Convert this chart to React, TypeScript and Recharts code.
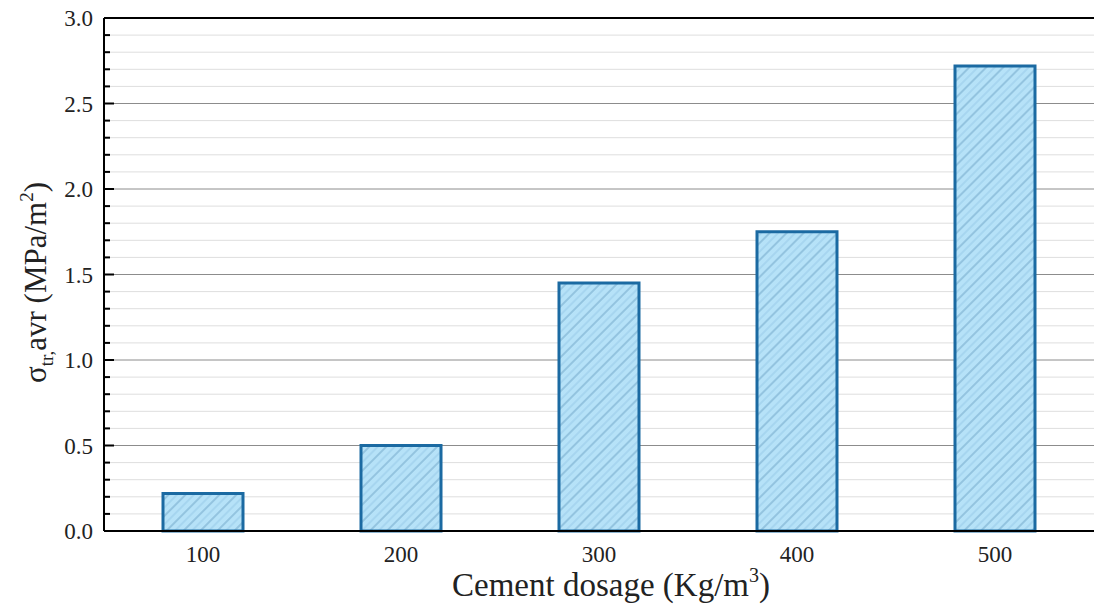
import React from "react";
import {
  BarChart,
  Bar,
  XAxis,
  YAxis,
  CartesianGrid,
  ReferenceLine,
  Label,
} from "recharts";

const categories = ["100", "200", "300", "400", "500"];
const strength = [0.22, 0.5, 1.45, 1.75, 2.72];
const yTicks = [
  0, 0.1, 0.2, 0.3, 0.4, 0.5, 0.6, 0.7, 0.8, 0.9, 1.0, 1.1, 1.2, 1.3, 1.4, 1.5,
  1.6, 1.7, 1.8, 1.9, 2.0, 2.1, 2.2, 2.3, 2.4, 2.5, 2.6, 2.7, 2.8, 2.9, 3.0,
];
const majorTicks = [0, 0.5, 1.0, 1.5, 2.0, 2.5, 3.0];
const minorGrid = yTicks.filter((t) => !majorTicks.includes(t));
const majorGrid = [0.5, 1.0, 1.5, 2.0, 2.5];

const data = categories.map((c, i) => ({ dosage: c, value: strength[i] }));

const FONT = "Liberation Serif, DejaVu Serif, serif";

const LeftTick = (props: any) => {
  const { x, y, payload } = props;
  const major = majorTicks.includes(payload.value);
  return (
    <g>
      <line x1={x} x2={x + (major ? 10 : 6)} y1={y} y2={y} stroke="#000" strokeWidth={2} />
      {major && (
        <text x={x - 11} y={y} dy="0.35em" textAnchor="end" style={{ fontFamily: FONT, fontSize: 23 }} fill="#222">
          {payload.value.toFixed(1)}
        </text>
      )}
    </g>
  );
};

const RightTick = (props: any) => {
  const { x, y, payload } = props;
  const major = majorTicks.includes(payload.value);
  return <line x1={x} x2={x - (major ? 10 : 6)} y1={y} y2={y} stroke="#000" strokeWidth={2} />;
};

const XTick = (props: any) => {
  const { x, y, payload } = props;
  return (
    <text x={x} y={y + 15} dy="0.71em" textAnchor="middle" style={{ fontFamily: FONT, fontSize: 23 }} fill="#222">
      {payload.value}
    </text>
  );
};

const YTitle = (props: any) => {
  const { viewBox } = props;
  const cx = viewBox.x + 35;
  const cy = viewBox.y + viewBox.height / 2 + 8;
  return (
    <text
      x={cx}
      y={cy}
      transform={`rotate(-90 ${cx} ${cy})`}
      textAnchor="middle"
      dy="0.35em"
      style={{ fontFamily: FONT, fontSize: 31 }}
      fill="#222"
    >
      <tspan>σ</tspan>
      <tspan dy={7} style={{ fontSize: 19 }}>tr,</tspan>
      <tspan dy={-7}>avr (MPa/m</tspan>
      <tspan dy={-13} style={{ fontSize: 19 }}>2</tspan>
      <tspan dy={13}>)</tspan>
    </text>
  );
};

const XTitle = (props: any) => {
  const { viewBox } = props;
  const cx = viewBox.x + viewBox.width / 2 + 12;
  return (
    <text x={cx} y={viewBox.y + 65} textAnchor="middle" style={{ fontFamily: FONT, fontSize: 33 }} fill="#222">
      <tspan>Cement dosage (Kg/m</tspan>
      <tspan dy={-14} style={{ fontSize: 20 }}>3</tspan>
      <tspan dy={14}>)</tspan>
    </text>
  );
};

export default function App() {
  return (
    <div style={{ position: "absolute", left: 0, top: 0, background: "#fff" }}>
      <BarChart
        width={1094}
        height={612}
        data={data}
        margin={{ top: 18, right: 0, left: 0, bottom: 0 }}
        barSize={80}
      >
        <defs>
          <pattern id="hatch" patternUnits="userSpaceOnUse" width={12} height={12} patternTransform="rotate(45)">
            <rect width={12} height={12} fill="#b6e2f8" />
            <line x1={1} y1={0} x2={1} y2={12} stroke="#5f95bb" strokeWidth={0.8} />
            <line x1={7} y1={0} x2={7} y2={12} stroke="#8fc3e2" strokeWidth={0.8} />
          </pattern>
        </defs>
        <CartesianGrid yAxisId="left" vertical={false} horizontalValues={minorGrid} stroke="#dedede" strokeWidth={1} />
        <CartesianGrid yAxisId="left" vertical={false} horizontalValues={majorGrid} stroke="#8c8c8c" strokeWidth={1} />
        <XAxis
          dataKey="dosage"
          height={81}
          tickLine={false}
          tickSize={0}
          tickMargin={0}
          axisLine={{ stroke: "#000", strokeWidth: 2 }}
          tick={<XTick />}
        >
          <Label content={<XTitle />} />
        </XAxis>
        <YAxis
          yAxisId="left"
          type="number"
          domain={[0, 3]}
          ticks={yTicks}
          interval={0}
          width={104}
          tickLine={false}
          tickSize={0}
          tickMargin={0}
          axisLine={{ stroke: "#000", strokeWidth: 2 }}
          tick={<LeftTick />}
        >
          <Label content={<YTitle />} />
        </YAxis>
        <YAxis
          yAxisId="right"
          orientation="right"
          type="number"
          domain={[0, 3]}
          ticks={yTicks}
          interval={0}
          width={0}
          tickLine={false}
          tickSize={0}
          tickMargin={0}
          axisLine={false}
          tick={<RightTick />}
        />
        <Bar
          yAxisId="left"
          dataKey="value"
          fill="url(#hatch)"
          stroke="#1b6aa2"
          strokeWidth={3}
          isAnimationActive={false}
        />
        <ReferenceLine yAxisId="left" y={3} stroke="#000" strokeWidth={2} />
      </BarChart>
    </div>
  );
}
